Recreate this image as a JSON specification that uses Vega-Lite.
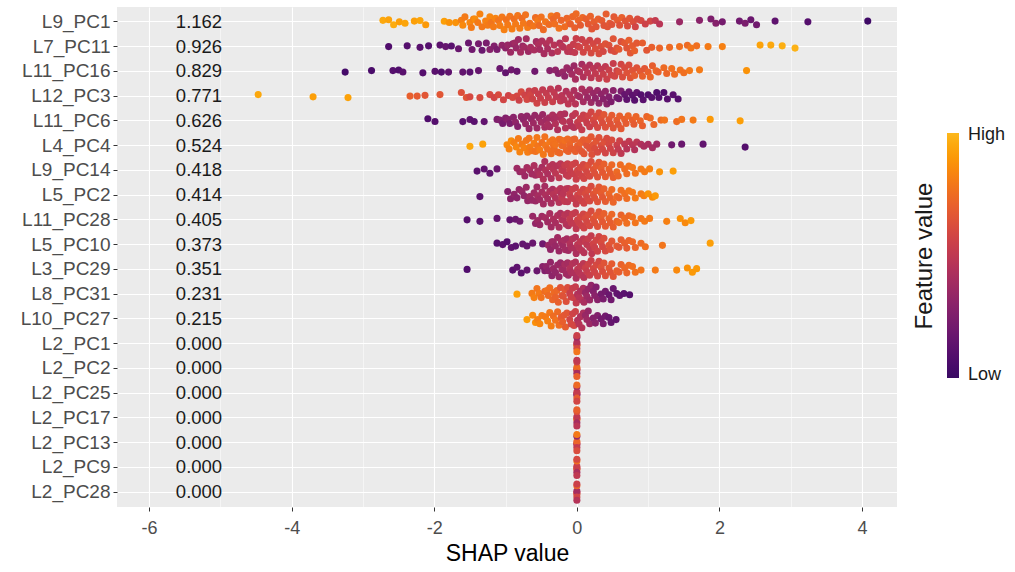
{
"$schema":"https://vega.github.io/schema/vega-lite/v6.json",
"width":780,"height":500,
"autosize":{"type":"none"},
"padding":{"left":117,"top":7,"right":118,"bottom":65},
"config":{"view":{"fill":"#EBEBEB","stroke":null},"font":"Liberation Sans"},
"datasets":{
"means":[{"f":"L9_PC1","m":"1.162"},{"f":"L7_PC11","m":"0.926"},{"f":"L11_PC16","m":"0.829"},{"f":"L12_PC3","m":"0.771"},{"f":"L11_PC6","m":"0.626"},{"f":"L4_PC4","m":"0.524"},{"f":"L9_PC14","m":"0.418"},{"f":"L5_PC2","m":"0.414"},{"f":"L11_PC28","m":"0.405"},{"f":"L5_PC10","m":"0.373"},{"f":"L3_PC29","m":"0.351"},{"f":"L8_PC31","m":"0.231"},{"f":"L10_PC27","m":"0.215"},{"f":"L2_PC1","m":"0.000"},{"f":"L2_PC2","m":"0.000"},{"f":"L2_PC25","m":"0.000"},{"f":"L2_PC17","m":"0.000"},{"f":"L2_PC13","m":"0.000"},{"f":"L2_PC9","m":"0.000"},{"f":"L2_PC28","m":"0.000"}],
"pts":[
{"f":"L9_PC1","s":-2.72,"v":0.95},{"f":"L9_PC1","s":-2.64,"v":0.93},{"f":"L9_PC1","s":-2.57,"v":0.96},{"f":"L9_PC1","s":-2.49,"v":0.92},{"f":"L9_PC1","s":-2.41,"v":0.94},{"f":"L9_PC1","s":-2.28,"v":0.92},{"f":"L9_PC1","s":-2.2,"v":0.94},{"f":"L9_PC1","s":-2.12,"v":0.9},{"f":"L9_PC1","s":-1.86,"v":0.92},{"f":"L9_PC1","s":-1.79,"v":0.88},{"f":"L9_PC1","s":-1.7,"v":0.88},
{"f":"L9_PC1","s":-1.62,"v":0.82},{"f":"L9_PC1","s":-1.6,"v":0.85},{"f":"L9_PC1","s":-1.57,"v":0.8},
{"f":"L9_PC1","s":-1.5,"v":0.84},{"f":"L9_PC1","s":-1.48,"v":0.8},{"f":"L9_PC1","s":-1.45,"v":0.82},{"f":"L9_PC1","s":-1.43,"v":0.86},
{"f":"L9_PC1","s":-1.39,"v":0.8},{"f":"L9_PC1","s":-1.36,"v":0.83},{"f":"L9_PC1","s":-1.33,"v":0.79},
{"f":"L9_PC1","s":-1.28,"v":0.82},{"f":"L9_PC1","s":-1.25,"v":0.8},{"f":"L9_PC1","s":-1.22,"v":0.84},{"f":"L9_PC1","s":-1.2,"v":0.78},
{"f":"L9_PC1","s":-1.17,"v":0.8},{"f":"L9_PC1","s":-1.14,"v":0.83},{"f":"L9_PC1","s":-1.1,"v":0.78},{"f":"L9_PC1","s":-1.08,"v":0.81},
{"f":"L9_PC1","s":-1.05,"v":0.79},{"f":"L9_PC1","s":-1.02,"v":0.82},{"f":"L9_PC1","s":-0.99,"v":0.77},{"f":"L9_PC1","s":-0.97,"v":0.8},
{"f":"L9_PC1","s":-0.94,"v":0.78},{"f":"L9_PC1","s":-0.91,"v":0.81},{"f":"L9_PC1","s":-0.88,"v":0.76},{"f":"L9_PC1","s":-0.86,"v":0.8},
{"f":"L9_PC1","s":-0.83,"v":0.78},{"f":"L9_PC1","s":-0.8,"v":0.8},{"f":"L9_PC1","s":-0.77,"v":0.75},{"f":"L9_PC1","s":-0.75,"v":0.79},
{"f":"L9_PC1","s":-0.72,"v":0.77},{"f":"L9_PC1","s":-0.69,"v":0.8},{"f":"L9_PC1","s":-0.66,"v":0.76},
{"f":"L9_PC1","s":-0.61,"v":0.78},{"f":"L9_PC1","s":-0.58,"v":0.75},{"f":"L9_PC1","s":-0.55,"v":0.79},{"f":"L9_PC1","s":-0.53,"v":0.74},
{"f":"L9_PC1","s":-0.5,"v":0.77},{"f":"L9_PC1","s":-0.47,"v":0.74},{"f":"L9_PC1","s":-0.44,"v":0.78},
{"f":"L9_PC1","s":-0.39,"v":0.75},{"f":"L9_PC1","s":-0.36,"v":0.78},{"f":"L9_PC1","s":-0.33,"v":0.73},{"f":"L9_PC1","s":-0.31,"v":0.76},
{"f":"L9_PC1","s":-0.28,"v":0.74},{"f":"L9_PC1","s":-0.25,"v":0.77},{"f":"L9_PC1","s":-0.22,"v":0.72},
{"f":"L9_PC1","s":-0.17,"v":0.75},{"f":"L9_PC1","s":-0.14,"v":0.72},{"f":"L9_PC1","s":-0.11,"v":0.76},{"f":"L9_PC1","s":-0.09,"v":0.7},
{"f":"L9_PC1","s":-0.06,"v":0.73},{"f":"L9_PC1","s":-0.03,"v":0.7},{"f":"L9_PC1","s":-0.01,"v":0.74},
{"f":"L9_PC1","s":0.02,"v":0.72},{"f":"L9_PC1","s":0.05,"v":0.68},{"f":"L9_PC1","s":0.08,"v":0.73},
{"f":"L9_PC1","s":0.13,"v":0.7},{"f":"L9_PC1","s":0.16,"v":0.67},{"f":"L9_PC1","s":0.19,"v":0.71},{"f":"L9_PC1","s":0.21,"v":0.66},
{"f":"L9_PC1","s":0.24,"v":0.69},{"f":"L9_PC1","s":0.27,"v":0.66},{"f":"L9_PC1","s":0.3,"v":0.7},
{"f":"L9_PC1","s":0.35,"v":0.68},{"f":"L9_PC1","s":0.38,"v":0.65},{"f":"L9_PC1","s":0.41,"v":0.69},{"f":"L9_PC1","s":0.43,"v":0.65},
{"f":"L9_PC1","s":0.46,"v":0.67},{"f":"L9_PC1","s":0.49,"v":0.64},{"f":"L9_PC1","s":0.52,"v":0.67},
{"f":"L9_PC1","s":0.57,"v":0.68},{"f":"L9_PC1","s":0.6,"v":0.64},{"f":"L9_PC1","s":0.63,"v":0.7},
{"f":"L9_PC1","s":0.68,"v":0.65},{"f":"L9_PC1","s":0.71,"v":0.62},{"f":"L9_PC1","s":0.74,"v":0.66},
{"f":"L9_PC1","s":0.79,"v":0.63},{"f":"L9_PC1","s":0.82,"v":0.58},{"f":"L9_PC1","s":0.85,"v":0.61},
{"f":"L9_PC1","s":0.9,"v":0.6},{"f":"L9_PC1","s":0.96,"v":0.56},{"f":"L9_PC1","s":1.03,"v":0.58},{"f":"L9_PC1","s":1.1,"v":0.52},{"f":"L9_PC1","s":1.16,"v":0.48},
{"f":"L9_PC1","s":1.44,"v":0.36},{"f":"L9_PC1","s":1.72,"v":0.3},{"f":"L9_PC1","s":1.88,"v":0.25},{"f":"L9_PC1","s":1.95,"v":0.28},{"f":"L9_PC1","s":2.04,"v":0.22},{"f":"L9_PC1","s":2.28,"v":0.2},{"f":"L9_PC1","s":2.36,"v":0.24},{"f":"L9_PC1","s":2.44,"v":0.18},{"f":"L9_PC1","s":2.52,"v":0.2},{"f":"L9_PC1","s":2.78,"v":0.14},{"f":"L9_PC1","s":3.24,"v":0.1},{"f":"L9_PC1","s":4.08,"v":0.02},

{"f":"L7_PC11","s":-2.64,"v":0.08},{"f":"L7_PC11","s":-2.38,"v":0.1},{"f":"L7_PC11","s":-2.2,"v":0.12},{"f":"L7_PC11","s":-2.08,"v":0.1},{"f":"L7_PC11","s":-1.92,"v":0.13},{"f":"L7_PC11","s":-1.84,"v":0.16},{"f":"L7_PC11","s":-1.76,"v":0.12},{"f":"L7_PC11","s":-1.66,"v":0.17},
{"f":"L7_PC11","s":-1.52,"v":0.18},{"f":"L7_PC11","s":-1.47,"v":0.2},{"f":"L7_PC11","s":-1.38,"v":0.22},{"f":"L7_PC11","s":-1.33,"v":0.18},{"f":"L7_PC11","s":-1.27,"v":0.24},{"f":"L7_PC11","s":-1.22,"v":0.28},{"f":"L7_PC11","s":-1.16,"v":0.27},{"f":"L7_PC11","s":-1.12,"v":0.24},{"f":"L7_PC11","s":-1.05,"v":0.33},{"f":"L7_PC11","s":-1.0,"v":0.31},{"f":"L7_PC11","s":-0.97,"v":0.35},
{"f":"L7_PC11","s":-0.93,"v":0.37},{"f":"L7_PC11","s":-0.9,"v":0.34},{"f":"L7_PC11","s":-0.87,"v":0.38},{"f":"L7_PC11","s":-0.85,"v":0.35},
{"f":"L7_PC11","s":-0.82,"v":0.37},{"f":"L7_PC11","s":-0.79,"v":0.4},{"f":"L7_PC11","s":-0.76,"v":0.36},{"f":"L7_PC11","s":-0.74,"v":0.39},
{"f":"L7_PC11","s":-0.71,"v":0.4},{"f":"L7_PC11","s":-0.68,"v":0.37},{"f":"L7_PC11","s":-0.65,"v":0.41},
{"f":"L7_PC11","s":-0.6,"v":0.42},{"f":"L7_PC11","s":-0.57,"v":0.39},{"f":"L7_PC11","s":-0.54,"v":0.43},{"f":"L7_PC11","s":-0.52,"v":0.4},
{"f":"L7_PC11","s":-0.49,"v":0.44},{"f":"L7_PC11","s":-0.46,"v":0.41},{"f":"L7_PC11","s":-0.43,"v":0.45},{"f":"L7_PC11","s":-0.41,"v":0.42},
{"f":"L7_PC11","s":-0.38,"v":0.46},{"f":"L7_PC11","s":-0.35,"v":0.43},{"f":"L7_PC11","s":-0.32,"v":0.47},
{"f":"L7_PC11","s":-0.27,"v":0.48},{"f":"L7_PC11","s":-0.24,"v":0.45},{"f":"L7_PC11","s":-0.21,"v":0.49},{"f":"L7_PC11","s":-0.19,"v":0.47},
{"f":"L7_PC11","s":-0.16,"v":0.5},{"f":"L7_PC11","s":-0.13,"v":0.48},{"f":"L7_PC11","s":-0.1,"v":0.52},{"f":"L7_PC11","s":-0.08,"v":0.49},
{"f":"L7_PC11","s":-0.05,"v":0.53},{"f":"L7_PC11","s":-0.03,"v":0.51},{"f":"L7_PC11","s":-0.01,"v":0.54},
{"f":"L7_PC11","s":0.01,"v":0.55},{"f":"L7_PC11","s":0.04,"v":0.57},{"f":"L7_PC11","s":0.07,"v":0.54},{"f":"L7_PC11","s":0.09,"v":0.58},
{"f":"L7_PC11","s":0.12,"v":0.57},{"f":"L7_PC11","s":0.15,"v":0.59},{"f":"L7_PC11","s":0.18,"v":0.56},{"f":"L7_PC11","s":0.2,"v":0.6},
{"f":"L7_PC11","s":0.23,"v":0.59},{"f":"L7_PC11","s":0.26,"v":0.62},{"f":"L7_PC11","s":0.29,"v":0.58},{"f":"L7_PC11","s":0.31,"v":0.61},
{"f":"L7_PC11","s":0.34,"v":0.62},{"f":"L7_PC11","s":0.37,"v":0.59},{"f":"L7_PC11","s":0.4,"v":0.64},
{"f":"L7_PC11","s":0.45,"v":0.63},{"f":"L7_PC11","s":0.48,"v":0.6},{"f":"L7_PC11","s":0.51,"v":0.65},{"f":"L7_PC11","s":0.53,"v":0.62},
{"f":"L7_PC11","s":0.56,"v":0.64},{"f":"L7_PC11","s":0.59,"v":0.67},{"f":"L7_PC11","s":0.62,"v":0.63},
{"f":"L7_PC11","s":0.67,"v":0.67},{"f":"L7_PC11","s":0.7,"v":0.65},{"f":"L7_PC11","s":0.73,"v":0.69},{"f":"L7_PC11","s":0.75,"v":0.66},
{"f":"L7_PC11","s":0.78,"v":0.68},{"f":"L7_PC11","s":0.81,"v":0.7},{"f":"L7_PC11","s":0.84,"v":0.67},
{"f":"L7_PC11","s":0.92,"v":0.69},{"f":"L7_PC11","s":0.98,"v":0.66},{"f":"L7_PC11","s":1.05,"v":0.7},{"f":"L7_PC11","s":1.16,"v":0.72},{"f":"L7_PC11","s":1.3,"v":0.74},{"f":"L7_PC11","s":1.44,"v":0.76},{"f":"L7_PC11","s":1.55,"v":0.74},{"f":"L7_PC11","s":1.6,"v":0.78},{"f":"L7_PC11","s":1.68,"v":0.76},{"f":"L7_PC11","s":1.84,"v":0.8},{"f":"L7_PC11","s":2.04,"v":0.82},{"f":"L7_PC11","s":2.57,"v":0.93},{"f":"L7_PC11","s":2.72,"v":0.95},{"f":"L7_PC11","s":2.88,"v":0.97},{"f":"L7_PC11","s":3.06,"v":0.98},

{"f":"L11_PC16","s":-3.25,"v":0.04},{"f":"L11_PC16","s":-2.88,"v":0.06},{"f":"L11_PC16","s":-2.58,"v":0.1},{"f":"L11_PC16","s":-2.5,"v":0.08},{"f":"L11_PC16","s":-2.44,"v":0.12},{"f":"L11_PC16","s":-2.16,"v":0.1},{"f":"L11_PC16","s":-1.99,"v":0.12},{"f":"L11_PC16","s":-1.9,"v":0.09},{"f":"L11_PC16","s":-1.8,"v":0.14},{"f":"L11_PC16","s":-1.6,"v":0.15},{"f":"L11_PC16","s":-1.5,"v":0.12},{"f":"L11_PC16","s":-1.38,"v":0.16},{"f":"L11_PC16","s":-1.08,"v":0.18},{"f":"L11_PC16","s":-1.0,"v":0.15},{"f":"L11_PC16","s":-0.92,"v":0.2},{"f":"L11_PC16","s":-0.84,"v":0.17},{"f":"L11_PC16","s":-0.59,"v":0.2},
{"f":"L11_PC16","s":-0.38,"v":0.29},{"f":"L11_PC16","s":-0.3,"v":0.32},{"f":"L11_PC16","s":-0.26,"v":0.29},{"f":"L11_PC16","s":-0.2,"v":0.35},{"f":"L11_PC16","s":-0.17,"v":0.32},{"f":"L11_PC16","s":-0.14,"v":0.36},
{"f":"L11_PC16","s":-0.1,"v":0.35},{"f":"L11_PC16","s":-0.07,"v":0.39},{"f":"L11_PC16","s":-0.04,"v":0.36},{"f":"L11_PC16","s":-0.02,"v":0.41},
{"f":"L11_PC16","s":0.01,"v":0.41},{"f":"L11_PC16","s":0.04,"v":0.44},{"f":"L11_PC16","s":0.07,"v":0.4},{"f":"L11_PC16","s":0.09,"v":0.45},
{"f":"L11_PC16","s":0.12,"v":0.45},{"f":"L11_PC16","s":0.15,"v":0.48},{"f":"L11_PC16","s":0.18,"v":0.44},{"f":"L11_PC16","s":0.2,"v":0.49},
{"f":"L11_PC16","s":0.23,"v":0.48},{"f":"L11_PC16","s":0.26,"v":0.51},{"f":"L11_PC16","s":0.29,"v":0.47},{"f":"L11_PC16","s":0.31,"v":0.52},
{"f":"L11_PC16","s":0.34,"v":0.51},{"f":"L11_PC16","s":0.37,"v":0.54},{"f":"L11_PC16","s":0.4,"v":0.5},{"f":"L11_PC16","s":0.42,"v":0.55},
{"f":"L11_PC16","s":0.45,"v":0.54},{"f":"L11_PC16","s":0.48,"v":0.57},{"f":"L11_PC16","s":0.51,"v":0.53},{"f":"L11_PC16","s":0.53,"v":0.58},
{"f":"L11_PC16","s":0.56,"v":0.57},{"f":"L11_PC16","s":0.59,"v":0.61},{"f":"L11_PC16","s":0.62,"v":0.58},{"f":"L11_PC16","s":0.64,"v":0.62},
{"f":"L11_PC16","s":0.67,"v":0.6},{"f":"L11_PC16","s":0.7,"v":0.64},{"f":"L11_PC16","s":0.73,"v":0.61},{"f":"L11_PC16","s":0.75,"v":0.65},
{"f":"L11_PC16","s":0.78,"v":0.65},{"f":"L11_PC16","s":0.81,"v":0.68},{"f":"L11_PC16","s":0.84,"v":0.64},
{"f":"L11_PC16","s":0.89,"v":0.67},{"f":"L11_PC16","s":0.92,"v":0.7},{"f":"L11_PC16","s":0.95,"v":0.66},
{"f":"L11_PC16","s":1.0,"v":0.7},{"f":"L11_PC16","s":1.03,"v":0.72},{"f":"L11_PC16","s":1.06,"v":0.69},
{"f":"L11_PC16","s":1.11,"v":0.73},{"f":"L11_PC16","s":1.14,"v":0.71},
{"f":"L11_PC16","s":1.22,"v":0.74},{"f":"L11_PC16","s":1.26,"v":0.72},
{"f":"L11_PC16","s":1.33,"v":0.76},{"f":"L11_PC16","s":1.37,"v":0.75},
{"f":"L11_PC16","s":1.45,"v":0.77},{"f":"L11_PC16","s":1.5,"v":0.76},
{"f":"L11_PC16","s":1.58,"v":0.79},{"f":"L11_PC16","s":1.72,"v":0.8},{"f":"L11_PC16","s":2.38,"v":0.88},

{"f":"L12_PC3","s":-4.47,"v":0.95},{"f":"L12_PC3","s":-3.7,"v":0.92},{"f":"L12_PC3","s":-3.21,"v":0.93},
{"f":"L12_PC3","s":-2.34,"v":0.7},{"f":"L12_PC3","s":-2.24,"v":0.68},{"f":"L12_PC3","s":-2.13,"v":0.66},{"f":"L12_PC3","s":-1.92,"v":0.66},{"f":"L12_PC3","s":-1.62,"v":0.63},{"f":"L12_PC3","s":-1.55,"v":0.65},{"f":"L12_PC3","s":-1.5,"v":0.6},{"f":"L12_PC3","s":-1.36,"v":0.61},{"f":"L12_PC3","s":-1.22,"v":0.6},{"f":"L12_PC3","s":-1.16,"v":0.58},{"f":"L12_PC3","s":-1.1,"v":0.61},{"f":"L12_PC3","s":-1.03,"v":0.58},{"f":"L12_PC3","s":-0.96,"v":0.57},{"f":"L12_PC3","s":-0.9,"v":0.6},
{"f":"L12_PC3","s":-0.84,"v":0.59},{"f":"L12_PC3","s":-0.81,"v":0.56},{"f":"L12_PC3","s":-0.78,"v":0.6},
{"f":"L12_PC3","s":-0.73,"v":0.57},{"f":"L12_PC3","s":-0.7,"v":0.59},{"f":"L12_PC3","s":-0.67,"v":0.55},{"f":"L12_PC3","s":-0.65,"v":0.58},
{"f":"L12_PC3","s":-0.62,"v":0.56},{"f":"L12_PC3","s":-0.59,"v":0.54},{"f":"L12_PC3","s":-0.56,"v":0.57},{"f":"L12_PC3","s":-0.54,"v":0.53},
{"f":"L12_PC3","s":-0.51,"v":0.54},{"f":"L12_PC3","s":-0.48,"v":0.51},{"f":"L12_PC3","s":-0.45,"v":0.55},{"f":"L12_PC3","s":-0.43,"v":0.52},
{"f":"L12_PC3","s":-0.4,"v":0.53},{"f":"L12_PC3","s":-0.37,"v":0.5},{"f":"L12_PC3","s":-0.34,"v":0.54},{"f":"L12_PC3","s":-0.32,"v":0.51},
{"f":"L12_PC3","s":-0.29,"v":0.5},{"f":"L12_PC3","s":-0.26,"v":0.47},{"f":"L12_PC3","s":-0.23,"v":0.51},{"f":"L12_PC3","s":-0.21,"v":0.48},
{"f":"L12_PC3","s":-0.18,"v":0.48},{"f":"L12_PC3","s":-0.15,"v":0.45},{"f":"L12_PC3","s":-0.12,"v":0.49},{"f":"L12_PC3","s":-0.1,"v":0.46},
{"f":"L12_PC3","s":-0.07,"v":0.46},{"f":"L12_PC3","s":-0.04,"v":0.43},{"f":"L12_PC3","s":-0.02,"v":0.47},
{"f":"L12_PC3","s":0.01,"v":0.42},{"f":"L12_PC3","s":0.04,"v":0.39},{"f":"L12_PC3","s":0.07,"v":0.43},{"f":"L12_PC3","s":0.09,"v":0.4},
{"f":"L12_PC3","s":0.12,"v":0.39},{"f":"L12_PC3","s":0.15,"v":0.36},{"f":"L12_PC3","s":0.18,"v":0.4},{"f":"L12_PC3","s":0.2,"v":0.37},
{"f":"L12_PC3","s":0.23,"v":0.35},{"f":"L12_PC3","s":0.26,"v":0.32},{"f":"L12_PC3","s":0.29,"v":0.36},{"f":"L12_PC3","s":0.31,"v":0.33},
{"f":"L12_PC3","s":0.34,"v":0.32},{"f":"L12_PC3","s":0.37,"v":0.29},{"f":"L12_PC3","s":0.4,"v":0.33},{"f":"L12_PC3","s":0.42,"v":0.3},
{"f":"L12_PC3","s":0.45,"v":0.28},{"f":"L12_PC3","s":0.48,"v":0.25},{"f":"L12_PC3","s":0.51,"v":0.29},
{"f":"L12_PC3","s":0.56,"v":0.22},{"f":"L12_PC3","s":0.59,"v":0.2},{"f":"L12_PC3","s":0.62,"v":0.24},
{"f":"L12_PC3","s":0.67,"v":0.16},{"f":"L12_PC3","s":0.7,"v":0.14},{"f":"L12_PC3","s":0.73,"v":0.18},
{"f":"L12_PC3","s":0.78,"v":0.13},{"f":"L12_PC3","s":0.81,"v":0.11},{"f":"L12_PC3","s":0.84,"v":0.15},
{"f":"L12_PC3","s":0.9,"v":0.1},{"f":"L12_PC3","s":0.93,"v":0.12},
{"f":"L12_PC3","s":1.0,"v":0.09},{"f":"L12_PC3","s":1.05,"v":0.11},
{"f":"L12_PC3","s":1.12,"v":0.08},{"f":"L12_PC3","s":1.15,"v":0.1},
{"f":"L12_PC3","s":1.22,"v":0.09},{"f":"L12_PC3","s":1.27,"v":0.11},
{"f":"L12_PC3","s":1.35,"v":0.12},{"f":"L12_PC3","s":1.42,"v":0.1},

{"f":"L11_PC6","s":-2.09,"v":0.08},{"f":"L11_PC6","s":-1.99,"v":0.1},{"f":"L11_PC6","s":-1.6,"v":0.12},{"f":"L11_PC6","s":-1.5,"v":0.14},{"f":"L11_PC6","s":-1.44,"v":0.12},{"f":"L11_PC6","s":-1.3,"v":0.15},
{"f":"L11_PC6","s":-1.12,"v":0.25},{"f":"L11_PC6","s":-1.08,"v":0.27},{"f":"L11_PC6","s":-1.04,"v":0.23},
{"f":"L11_PC6","s":-1.0,"v":0.27},{"f":"L11_PC6","s":-0.97,"v":0.29},{"f":"L11_PC6","s":-0.94,"v":0.25},
{"f":"L11_PC6","s":-0.89,"v":0.3},{"f":"L11_PC6","s":-0.86,"v":0.32},{"f":"L11_PC6","s":-0.83,"v":0.28},
{"f":"L11_PC6","s":-0.78,"v":0.33},{"f":"L11_PC6","s":-0.75,"v":0.31},{"f":"L11_PC6","s":-0.72,"v":0.35},{"f":"L11_PC6","s":-0.7,"v":0.32},
{"f":"L11_PC6","s":-0.67,"v":0.35},{"f":"L11_PC6","s":-0.64,"v":0.33},{"f":"L11_PC6","s":-0.61,"v":0.37},{"f":"L11_PC6","s":-0.59,"v":0.34},
{"f":"L11_PC6","s":-0.56,"v":0.37},{"f":"L11_PC6","s":-0.53,"v":0.35},{"f":"L11_PC6","s":-0.5,"v":0.39},{"f":"L11_PC6","s":-0.48,"v":0.36},
{"f":"L11_PC6","s":-0.45,"v":0.4},{"f":"L11_PC6","s":-0.43,"v":0.38},{"f":"L11_PC6","s":-0.41,"v":0.42},{"f":"L11_PC6","s":-0.39,"v":0.39},{"f":"L11_PC6","s":-0.38,"v":0.41},
{"f":"L11_PC6","s":-0.34,"v":0.43},{"f":"L11_PC6","s":-0.32,"v":0.41},{"f":"L11_PC6","s":-0.3,"v":0.45},{"f":"L11_PC6","s":-0.28,"v":0.42},{"f":"L11_PC6","s":-0.27,"v":0.44},
{"f":"L11_PC6","s":-0.23,"v":0.45},{"f":"L11_PC6","s":-0.21,"v":0.43},{"f":"L11_PC6","s":-0.19,"v":0.47},{"f":"L11_PC6","s":-0.17,"v":0.44},{"f":"L11_PC6","s":-0.16,"v":0.46},
{"f":"L11_PC6","s":-0.1,"v":0.47},{"f":"L11_PC6","s":-0.08,"v":0.45},{"f":"L11_PC6","s":-0.06,"v":0.49},{"f":"L11_PC6","s":-0.04,"v":0.46},{"f":"L11_PC6","s":-0.02,"v":0.5},
{"f":"L11_PC6","s":0.01,"v":0.53},{"f":"L11_PC6","s":0.03,"v":0.51},{"f":"L11_PC6","s":0.05,"v":0.55},{"f":"L11_PC6","s":0.07,"v":0.52},{"f":"L11_PC6","s":0.09,"v":0.54},
{"f":"L11_PC6","s":0.12,"v":0.55},{"f":"L11_PC6","s":0.14,"v":0.53},{"f":"L11_PC6","s":0.16,"v":0.57},{"f":"L11_PC6","s":0.18,"v":0.54},{"f":"L11_PC6","s":0.2,"v":0.58},
{"f":"L11_PC6","s":0.23,"v":0.6},{"f":"L11_PC6","s":0.25,"v":0.57},{"f":"L11_PC6","s":0.27,"v":0.62},{"f":"L11_PC6","s":0.29,"v":0.59},{"f":"L11_PC6","s":0.31,"v":0.61},
{"f":"L11_PC6","s":0.34,"v":0.64},{"f":"L11_PC6","s":0.36,"v":0.62},{"f":"L11_PC6","s":0.38,"v":0.66},{"f":"L11_PC6","s":0.4,"v":0.63},
{"f":"L11_PC6","s":0.45,"v":0.66},{"f":"L11_PC6","s":0.47,"v":0.64},{"f":"L11_PC6","s":0.49,"v":0.68},{"f":"L11_PC6","s":0.51,"v":0.65},
{"f":"L11_PC6","s":0.56,"v":0.68},{"f":"L11_PC6","s":0.58,"v":0.66},{"f":"L11_PC6","s":0.6,"v":0.7},{"f":"L11_PC6","s":0.62,"v":0.67},
{"f":"L11_PC6","s":0.67,"v":0.7},{"f":"L11_PC6","s":0.69,"v":0.68},{"f":"L11_PC6","s":0.72,"v":0.72},
{"f":"L11_PC6","s":0.78,"v":0.7},{"f":"L11_PC6","s":0.8,"v":0.68},{"f":"L11_PC6","s":0.83,"v":0.72},
{"f":"L11_PC6","s":0.89,"v":0.72},{"f":"L11_PC6","s":0.92,"v":0.7},
{"f":"L11_PC6","s":0.98,"v":0.72},{"f":"L11_PC6","s":1.03,"v":0.74},{"f":"L11_PC6","s":1.08,"v":0.72},{"f":"L11_PC6","s":1.18,"v":0.75},{"f":"L11_PC6","s":1.23,"v":0.78},{"f":"L11_PC6","s":1.4,"v":0.75},{"f":"L11_PC6","s":1.47,"v":0.78},{"f":"L11_PC6","s":1.63,"v":0.8},{"f":"L11_PC6","s":1.87,"v":0.9},{"f":"L11_PC6","s":2.29,"v":0.92},

{"f":"L4_PC4","s":-1.5,"v":0.95},{"f":"L4_PC4","s":-1.32,"v":0.93},
{"f":"L4_PC4","s":-0.98,"v":0.85},{"f":"L4_PC4","s":-0.95,"v":0.83},{"f":"L4_PC4","s":-0.92,"v":0.86},
{"f":"L4_PC4","s":-0.88,"v":0.82},{"f":"L4_PC4","s":-0.85,"v":0.84},{"f":"L4_PC4","s":-0.82,"v":0.8},{"f":"L4_PC4","s":-0.8,"v":0.83},
{"f":"L4_PC4","s":-0.77,"v":0.8},{"f":"L4_PC4","s":-0.74,"v":0.82},{"f":"L4_PC4","s":-0.71,"v":0.79},{"f":"L4_PC4","s":-0.69,"v":0.81},{"f":"L4_PC4","s":-0.67,"v":0.78},
{"f":"L4_PC4","s":-0.66,"v":0.8},{"f":"L4_PC4","s":-0.63,"v":0.78},{"f":"L4_PC4","s":-0.6,"v":0.81},{"f":"L4_PC4","s":-0.58,"v":0.77},{"f":"L4_PC4","s":-0.56,"v":0.79},
{"f":"L4_PC4","s":-0.55,"v":0.78},{"f":"L4_PC4","s":-0.52,"v":0.8},{"f":"L4_PC4","s":-0.49,"v":0.76},{"f":"L4_PC4","s":-0.47,"v":0.79},{"f":"L4_PC4","s":-0.45,"v":0.77},
{"f":"L4_PC4","s":-0.44,"v":0.78},{"f":"L4_PC4","s":-0.41,"v":0.76},{"f":"L4_PC4","s":-0.38,"v":0.79},{"f":"L4_PC4","s":-0.36,"v":0.75},{"f":"L4_PC4","s":-0.34,"v":0.77},{"f":"L4_PC4","s":-0.33,"v":0.76},
{"f":"L4_PC4","s":-0.32,"v":0.75},{"f":"L4_PC4","s":-0.3,"v":0.77},{"f":"L4_PC4","s":-0.27,"v":0.74},{"f":"L4_PC4","s":-0.25,"v":0.76},{"f":"L4_PC4","s":-0.24,"v":0.73},{"f":"L4_PC4","s":-0.23,"v":0.75},
{"f":"L4_PC4","s":-0.21,"v":0.75},{"f":"L4_PC4","s":-0.19,"v":0.73},{"f":"L4_PC4","s":-0.17,"v":0.76},{"f":"L4_PC4","s":-0.15,"v":0.72},{"f":"L4_PC4","s":-0.13,"v":0.74},{"f":"L4_PC4","s":-0.12,"v":0.71},
{"f":"L4_PC4","s":-0.1,"v":0.72},{"f":"L4_PC4","s":-0.08,"v":0.7},{"f":"L4_PC4","s":-0.06,"v":0.73},{"f":"L4_PC4","s":-0.04,"v":0.69},{"f":"L4_PC4","s":-0.03,"v":0.71},{"f":"L4_PC4","s":-0.02,"v":0.7},
{"f":"L4_PC4","s":0.01,"v":0.7},{"f":"L4_PC4","s":0.03,"v":0.68},{"f":"L4_PC4","s":0.05,"v":0.71},{"f":"L4_PC4","s":0.07,"v":0.67},{"f":"L4_PC4","s":0.09,"v":0.69},{"f":"L4_PC4","s":0.1,"v":0.66},
{"f":"L4_PC4","s":0.12,"v":0.68},{"f":"L4_PC4","s":0.14,"v":0.65},{"f":"L4_PC4","s":0.16,"v":0.69},{"f":"L4_PC4","s":0.18,"v":0.64},{"f":"L4_PC4","s":0.2,"v":0.67},{"f":"L4_PC4","s":0.21,"v":0.63},
{"f":"L4_PC4","s":0.23,"v":0.65},{"f":"L4_PC4","s":0.25,"v":0.62},{"f":"L4_PC4","s":0.27,"v":0.66},{"f":"L4_PC4","s":0.29,"v":0.61},{"f":"L4_PC4","s":0.31,"v":0.64},
{"f":"L4_PC4","s":0.34,"v":0.62},{"f":"L4_PC4","s":0.36,"v":0.59},{"f":"L4_PC4","s":0.38,"v":0.63},{"f":"L4_PC4","s":0.4,"v":0.58},{"f":"L4_PC4","s":0.42,"v":0.61},
{"f":"L4_PC4","s":0.45,"v":0.6},{"f":"L4_PC4","s":0.47,"v":0.57},{"f":"L4_PC4","s":0.49,"v":0.61},{"f":"L4_PC4","s":0.51,"v":0.56},
{"f":"L4_PC4","s":0.56,"v":0.55},{"f":"L4_PC4","s":0.58,"v":0.52},{"f":"L4_PC4","s":0.6,"v":0.56},{"f":"L4_PC4","s":0.62,"v":0.5},
{"f":"L4_PC4","s":0.67,"v":0.5},{"f":"L4_PC4","s":0.7,"v":0.47},{"f":"L4_PC4","s":0.73,"v":0.51},
{"f":"L4_PC4","s":0.78,"v":0.48},{"f":"L4_PC4","s":0.81,"v":0.45},{"f":"L4_PC4","s":0.84,"v":0.49},
{"f":"L4_PC4","s":0.9,"v":0.45},{"f":"L4_PC4","s":0.94,"v":0.42},
{"f":"L4_PC4","s":1.0,"v":0.42},{"f":"L4_PC4","s":1.06,"v":0.4},{"f":"L4_PC4","s":1.12,"v":0.38},
{"f":"L4_PC4","s":1.33,"v":0.2},{"f":"L4_PC4","s":1.47,"v":0.18},{"f":"L4_PC4","s":1.77,"v":0.15},{"f":"L4_PC4","s":2.36,"v":0.1},

{"f":"L9_PC14","s":-1.4,"v":0.12},{"f":"L9_PC14","s":-1.3,"v":0.15},{"f":"L9_PC14","s":-1.22,"v":0.14},{"f":"L9_PC14","s":-1.12,"v":0.18},
{"f":"L9_PC14","s":-0.84,"v":0.37},{"f":"L9_PC14","s":-0.8,"v":0.35},
{"f":"L9_PC14","s":-0.76,"v":0.39},{"f":"L9_PC14","s":-0.73,"v":0.37},{"f":"L9_PC14","s":-0.7,"v":0.4},
{"f":"L9_PC14","s":-0.66,"v":0.42},{"f":"L9_PC14","s":-0.63,"v":0.39},{"f":"L9_PC14","s":-0.6,"v":0.43},{"f":"L9_PC14","s":-0.58,"v":0.4},
{"f":"L9_PC14","s":-0.55,"v":0.42},{"f":"L9_PC14","s":-0.52,"v":0.44},{"f":"L9_PC14","s":-0.49,"v":0.41},{"f":"L9_PC14","s":-0.47,"v":0.45},{"f":"L9_PC14","s":-0.45,"v":0.43},
{"f":"L9_PC14","s":-0.44,"v":0.45},{"f":"L9_PC14","s":-0.41,"v":0.43},{"f":"L9_PC14","s":-0.38,"v":0.47},{"f":"L9_PC14","s":-0.36,"v":0.44},{"f":"L9_PC14","s":-0.34,"v":0.46},
{"f":"L9_PC14","s":-0.33,"v":0.47},{"f":"L9_PC14","s":-0.3,"v":0.49},{"f":"L9_PC14","s":-0.27,"v":0.46},{"f":"L9_PC14","s":-0.25,"v":0.5},{"f":"L9_PC14","s":-0.23,"v":0.48},
{"f":"L9_PC14","s":-0.21,"v":0.52},{"f":"L9_PC14","s":-0.19,"v":0.5},{"f":"L9_PC14","s":-0.17,"v":0.53},{"f":"L9_PC14","s":-0.15,"v":0.51},{"f":"L9_PC14","s":-0.13,"v":0.54},{"f":"L9_PC14","s":-0.12,"v":0.52},
{"f":"L9_PC14","s":-0.1,"v":0.55},{"f":"L9_PC14","s":-0.08,"v":0.53},{"f":"L9_PC14","s":-0.06,"v":0.57},{"f":"L9_PC14","s":-0.04,"v":0.54},{"f":"L9_PC14","s":-0.02,"v":0.56},{"f":"L9_PC14","s":-0.01,"v":0.55},
{"f":"L9_PC14","s":0.01,"v":0.58},{"f":"L9_PC14","s":0.03,"v":0.56},{"f":"L9_PC14","s":0.05,"v":0.6},{"f":"L9_PC14","s":0.07,"v":0.57},{"f":"L9_PC14","s":0.09,"v":0.59},{"f":"L9_PC14","s":0.1,"v":0.58},
{"f":"L9_PC14","s":0.12,"v":0.61},{"f":"L9_PC14","s":0.14,"v":0.59},{"f":"L9_PC14","s":0.16,"v":0.63},{"f":"L9_PC14","s":0.18,"v":0.6},{"f":"L9_PC14","s":0.2,"v":0.62},
{"f":"L9_PC14","s":0.23,"v":0.65},{"f":"L9_PC14","s":0.25,"v":0.63},{"f":"L9_PC14","s":0.27,"v":0.67},{"f":"L9_PC14","s":0.29,"v":0.64},{"f":"L9_PC14","s":0.31,"v":0.66},
{"f":"L9_PC14","s":0.34,"v":0.69},{"f":"L9_PC14","s":0.36,"v":0.67},{"f":"L9_PC14","s":0.38,"v":0.7},{"f":"L9_PC14","s":0.4,"v":0.68},
{"f":"L9_PC14","s":0.45,"v":0.71},{"f":"L9_PC14","s":0.47,"v":0.69},{"f":"L9_PC14","s":0.49,"v":0.73},{"f":"L9_PC14","s":0.51,"v":0.7},
{"f":"L9_PC14","s":0.56,"v":0.74},{"f":"L9_PC14","s":0.58,"v":0.72},{"f":"L9_PC14","s":0.61,"v":0.75},
{"f":"L9_PC14","s":0.67,"v":0.76},{"f":"L9_PC14","s":0.7,"v":0.75},{"f":"L9_PC14","s":0.73,"v":0.77},
{"f":"L9_PC14","s":0.78,"v":0.79},{"f":"L9_PC14","s":0.82,"v":0.78},
{"f":"L9_PC14","s":0.9,"v":0.8},{"f":"L9_PC14","s":0.95,"v":0.8},{"f":"L9_PC14","s":1.02,"v":0.82},
{"f":"L9_PC14","s":1.16,"v":0.88},{"f":"L9_PC14","s":1.35,"v":0.92},

{"f":"L5_PC2","s":-1.36,"v":0.12},
{"f":"L5_PC2","s":-0.97,"v":0.27},{"f":"L5_PC2","s":-0.93,"v":0.29},
{"f":"L5_PC2","s":-0.88,"v":0.32},{"f":"L5_PC2","s":-0.84,"v":0.3},{"f":"L5_PC2","s":-0.81,"v":0.33},
{"f":"L5_PC2","s":-0.77,"v":0.35},{"f":"L5_PC2","s":-0.74,"v":0.33},{"f":"L5_PC2","s":-0.71,"v":0.36},{"f":"L5_PC2","s":-0.69,"v":0.34},
{"f":"L5_PC2","s":-0.66,"v":0.37},{"f":"L5_PC2","s":-0.63,"v":0.35},{"f":"L5_PC2","s":-0.6,"v":0.38},{"f":"L5_PC2","s":-0.58,"v":0.36},{"f":"L5_PC2","s":-0.56,"v":0.37},
{"f":"L5_PC2","s":-0.55,"v":0.4},{"f":"L5_PC2","s":-0.52,"v":0.38},{"f":"L5_PC2","s":-0.49,"v":0.41},{"f":"L5_PC2","s":-0.47,"v":0.39},{"f":"L5_PC2","s":-0.45,"v":0.4},
{"f":"L5_PC2","s":-0.44,"v":0.43},{"f":"L5_PC2","s":-0.41,"v":0.41},{"f":"L5_PC2","s":-0.38,"v":0.44},{"f":"L5_PC2","s":-0.36,"v":0.42},{"f":"L5_PC2","s":-0.34,"v":0.43},
{"f":"L5_PC2","s":-0.33,"v":0.47},{"f":"L5_PC2","s":-0.3,"v":0.45},{"f":"L5_PC2","s":-0.27,"v":0.48},{"f":"L5_PC2","s":-0.25,"v":0.46},{"f":"L5_PC2","s":-0.23,"v":0.47},{"f":"L5_PC2","s":-0.22,"v":0.45},
{"f":"L5_PC2","s":-0.21,"v":0.5},{"f":"L5_PC2","s":-0.19,"v":0.48},{"f":"L5_PC2","s":-0.17,"v":0.51},{"f":"L5_PC2","s":-0.15,"v":0.49},{"f":"L5_PC2","s":-0.13,"v":0.5},{"f":"L5_PC2","s":-0.12,"v":0.48},
{"f":"L5_PC2","s":-0.1,"v":0.54},{"f":"L5_PC2","s":-0.08,"v":0.52},{"f":"L5_PC2","s":-0.06,"v":0.55},{"f":"L5_PC2","s":-0.04,"v":0.53},{"f":"L5_PC2","s":-0.02,"v":0.54},{"f":"L5_PC2","s":-0.01,"v":0.52},
{"f":"L5_PC2","s":0.01,"v":0.57},{"f":"L5_PC2","s":0.03,"v":0.55},{"f":"L5_PC2","s":0.05,"v":0.59},{"f":"L5_PC2","s":0.07,"v":0.56},{"f":"L5_PC2","s":0.09,"v":0.58},{"f":"L5_PC2","s":0.1,"v":0.57},
{"f":"L5_PC2","s":0.12,"v":0.61},{"f":"L5_PC2","s":0.14,"v":0.59},{"f":"L5_PC2","s":0.16,"v":0.62},{"f":"L5_PC2","s":0.18,"v":0.6},{"f":"L5_PC2","s":0.2,"v":0.61},
{"f":"L5_PC2","s":0.23,"v":0.65},{"f":"L5_PC2","s":0.25,"v":0.63},{"f":"L5_PC2","s":0.27,"v":0.67},{"f":"L5_PC2","s":0.29,"v":0.64},{"f":"L5_PC2","s":0.31,"v":0.66},
{"f":"L5_PC2","s":0.34,"v":0.69},{"f":"L5_PC2","s":0.36,"v":0.67},{"f":"L5_PC2","s":0.38,"v":0.7},{"f":"L5_PC2","s":0.4,"v":0.68},
{"f":"L5_PC2","s":0.45,"v":0.73},{"f":"L5_PC2","s":0.47,"v":0.71},{"f":"L5_PC2","s":0.49,"v":0.74},{"f":"L5_PC2","s":0.51,"v":0.72},
{"f":"L5_PC2","s":0.56,"v":0.74},{"f":"L5_PC2","s":0.59,"v":0.72},{"f":"L5_PC2","s":0.62,"v":0.76},
{"f":"L5_PC2","s":0.67,"v":0.76},{"f":"L5_PC2","s":0.7,"v":0.75},{"f":"L5_PC2","s":0.73,"v":0.78},
{"f":"L5_PC2","s":0.78,"v":0.79},{"f":"L5_PC2","s":0.82,"v":0.8},
{"f":"L5_PC2","s":0.9,"v":0.8},{"f":"L5_PC2","s":0.94,"v":0.82},
{"f":"L5_PC2","s":1.0,"v":0.88},{"f":"L5_PC2","s":1.06,"v":0.86},{"f":"L5_PC2","s":1.1,"v":0.9},

{"f":"L11_PC28","s":-1.54,"v":0.1},{"f":"L11_PC28","s":-1.36,"v":0.12},{"f":"L11_PC28","s":-1.12,"v":0.15},{"f":"L11_PC28","s":-0.94,"v":0.15},{"f":"L11_PC28","s":-0.86,"v":0.18},{"f":"L11_PC28","s":-0.8,"v":0.2},
{"f":"L11_PC28","s":-0.62,"v":0.35},{"f":"L11_PC28","s":-0.58,"v":0.33},
{"f":"L11_PC28","s":-0.55,"v":0.37},{"f":"L11_PC28","s":-0.52,"v":0.35},{"f":"L11_PC28","s":-0.49,"v":0.38},
{"f":"L11_PC28","s":-0.44,"v":0.4},{"f":"L11_PC28","s":-0.41,"v":0.38},{"f":"L11_PC28","s":-0.38,"v":0.41},{"f":"L11_PC28","s":-0.36,"v":0.39},
{"f":"L11_PC28","s":-0.33,"v":0.43},{"f":"L11_PC28","s":-0.3,"v":0.41},{"f":"L11_PC28","s":-0.27,"v":0.44},{"f":"L11_PC28","s":-0.25,"v":0.42},{"f":"L11_PC28","s":-0.23,"v":0.43},
{"f":"L11_PC28","s":-0.21,"v":0.47},{"f":"L11_PC28","s":-0.19,"v":0.45},{"f":"L11_PC28","s":-0.17,"v":0.48},{"f":"L11_PC28","s":-0.15,"v":0.46},{"f":"L11_PC28","s":-0.13,"v":0.47},{"f":"L11_PC28","s":-0.12,"v":0.45},
{"f":"L11_PC28","s":-0.1,"v":0.52},{"f":"L11_PC28","s":-0.08,"v":0.5},{"f":"L11_PC28","s":-0.06,"v":0.53},{"f":"L11_PC28","s":-0.04,"v":0.51},{"f":"L11_PC28","s":-0.02,"v":0.52},{"f":"L11_PC28","s":-0.01,"v":0.5},
{"f":"L11_PC28","s":0.01,"v":0.57},{"f":"L11_PC28","s":0.03,"v":0.55},{"f":"L11_PC28","s":0.05,"v":0.59},{"f":"L11_PC28","s":0.07,"v":0.56},{"f":"L11_PC28","s":0.09,"v":0.58},{"f":"L11_PC28","s":0.1,"v":0.57},
{"f":"L11_PC28","s":0.12,"v":0.61},{"f":"L11_PC28","s":0.14,"v":0.59},{"f":"L11_PC28","s":0.16,"v":0.62},{"f":"L11_PC28","s":0.18,"v":0.6},{"f":"L11_PC28","s":0.2,"v":0.61},
{"f":"L11_PC28","s":0.23,"v":0.65},{"f":"L11_PC28","s":0.25,"v":0.63},{"f":"L11_PC28","s":0.27,"v":0.67},{"f":"L11_PC28","s":0.29,"v":0.64},{"f":"L11_PC28","s":0.31,"v":0.66},
{"f":"L11_PC28","s":0.34,"v":0.69},{"f":"L11_PC28","s":0.36,"v":0.67},{"f":"L11_PC28","s":0.38,"v":0.7},{"f":"L11_PC28","s":0.4,"v":0.68},
{"f":"L11_PC28","s":0.45,"v":0.71},{"f":"L11_PC28","s":0.47,"v":0.69},{"f":"L11_PC28","s":0.49,"v":0.73},{"f":"L11_PC28","s":0.51,"v":0.7},
{"f":"L11_PC28","s":0.56,"v":0.72},{"f":"L11_PC28","s":0.59,"v":0.74},{"f":"L11_PC28","s":0.62,"v":0.71},
{"f":"L11_PC28","s":0.67,"v":0.74},{"f":"L11_PC28","s":0.7,"v":0.76},{"f":"L11_PC28","s":0.73,"v":0.73},
{"f":"L11_PC28","s":0.78,"v":0.76},{"f":"L11_PC28","s":0.82,"v":0.78},
{"f":"L11_PC28","s":0.9,"v":0.78},{"f":"L11_PC28","s":0.95,"v":0.8},
{"f":"L11_PC28","s":1.02,"v":0.8},
{"f":"L11_PC28","s":1.26,"v":0.82},{"f":"L11_PC28","s":1.45,"v":0.88},{"f":"L11_PC28","s":1.52,"v":0.85},{"f":"L11_PC28","s":1.6,"v":0.9},

{"f":"L5_PC10","s":-1.12,"v":0.1},{"f":"L5_PC10","s":-1.04,"v":0.12},{"f":"L5_PC10","s":-0.98,"v":0.1},{"f":"L5_PC10","s":-0.92,"v":0.14},{"f":"L5_PC10","s":-0.86,"v":0.12},{"f":"L5_PC10","s":-0.76,"v":0.15},{"f":"L5_PC10","s":-0.7,"v":0.15},{"f":"L5_PC10","s":-0.62,"v":0.18},{"f":"L5_PC10","s":-0.48,"v":0.2},
{"f":"L5_PC10","s":-0.4,"v":0.35},{"f":"L5_PC10","s":-0.37,"v":0.33},{"f":"L5_PC10","s":-0.35,"v":0.36},
{"f":"L5_PC10","s":-0.33,"v":0.37},{"f":"L5_PC10","s":-0.3,"v":0.35},{"f":"L5_PC10","s":-0.27,"v":0.38},{"f":"L5_PC10","s":-0.25,"v":0.36},
{"f":"L5_PC10","s":-0.22,"v":0.4},{"f":"L5_PC10","s":-0.2,"v":0.38},{"f":"L5_PC10","s":-0.18,"v":0.41},{"f":"L5_PC10","s":-0.16,"v":0.39},{"f":"L5_PC10","s":-0.14,"v":0.4},{"f":"L5_PC10","s":-0.12,"v":0.38},
{"f":"L5_PC10","s":-0.1,"v":0.45},{"f":"L5_PC10","s":-0.08,"v":0.43},{"f":"L5_PC10","s":-0.06,"v":0.46},{"f":"L5_PC10","s":-0.04,"v":0.44},{"f":"L5_PC10","s":-0.02,"v":0.45},{"f":"L5_PC10","s":-0.01,"v":0.43},
{"f":"L5_PC10","s":0.01,"v":0.49},{"f":"L5_PC10","s":0.03,"v":0.47},{"f":"L5_PC10","s":0.05,"v":0.5},{"f":"L5_PC10","s":0.07,"v":0.48},{"f":"L5_PC10","s":0.09,"v":0.49},{"f":"L5_PC10","s":0.1,"v":0.47},
{"f":"L5_PC10","s":0.12,"v":0.52},{"f":"L5_PC10","s":0.14,"v":0.5},{"f":"L5_PC10","s":0.16,"v":0.53},{"f":"L5_PC10","s":0.18,"v":0.51},{"f":"L5_PC10","s":0.2,"v":0.52},{"f":"L5_PC10","s":0.21,"v":0.5},
{"f":"L5_PC10","s":0.23,"v":0.57},{"f":"L5_PC10","s":0.25,"v":0.55},{"f":"L5_PC10","s":0.27,"v":0.58},{"f":"L5_PC10","s":0.29,"v":0.56},{"f":"L5_PC10","s":0.31,"v":0.57},
{"f":"L5_PC10","s":0.34,"v":0.61},{"f":"L5_PC10","s":0.36,"v":0.59},{"f":"L5_PC10","s":0.38,"v":0.62},{"f":"L5_PC10","s":0.4,"v":0.6},
{"f":"L5_PC10","s":0.45,"v":0.65},{"f":"L5_PC10","s":0.47,"v":0.63},{"f":"L5_PC10","s":0.49,"v":0.66},
{"f":"L5_PC10","s":0.56,"v":0.68},{"f":"L5_PC10","s":0.59,"v":0.66},{"f":"L5_PC10","s":0.62,"v":0.69},
{"f":"L5_PC10","s":0.67,"v":0.7},{"f":"L5_PC10","s":0.7,"v":0.68},{"f":"L5_PC10","s":0.73,"v":0.71},
{"f":"L5_PC10","s":0.78,"v":0.73},{"f":"L5_PC10","s":0.82,"v":0.72},
{"f":"L5_PC10","s":0.9,"v":0.74},{"f":"L5_PC10","s":0.96,"v":0.76},
{"f":"L5_PC10","s":1.2,"v":0.78},{"f":"L5_PC10","s":1.87,"v":0.92},

{"f":"L3_PC29","s":-1.54,"v":0.08},{"f":"L3_PC29","s":-0.9,"v":0.12},{"f":"L3_PC29","s":-0.84,"v":0.14},{"f":"L3_PC29","s":-0.78,"v":0.12},{"f":"L3_PC29","s":-0.7,"v":0.15},{"f":"L3_PC29","s":-0.56,"v":0.18},
{"f":"L3_PC29","s":-0.48,"v":0.29},{"f":"L3_PC29","s":-0.45,"v":0.27},
{"f":"L3_PC29","s":-0.43,"v":0.32},{"f":"L3_PC29","s":-0.4,"v":0.3},{"f":"L3_PC29","s":-0.37,"v":0.33},{"f":"L3_PC29","s":-0.35,"v":0.31},
{"f":"L3_PC29","s":-0.33,"v":0.35},{"f":"L3_PC29","s":-0.3,"v":0.33},{"f":"L3_PC29","s":-0.27,"v":0.36},{"f":"L3_PC29","s":-0.25,"v":0.34},{"f":"L3_PC29","s":-0.23,"v":0.35},
{"f":"L3_PC29","s":-0.21,"v":0.4},{"f":"L3_PC29","s":-0.19,"v":0.38},{"f":"L3_PC29","s":-0.17,"v":0.41},{"f":"L3_PC29","s":-0.15,"v":0.39},{"f":"L3_PC29","s":-0.13,"v":0.4},{"f":"L3_PC29","s":-0.12,"v":0.38},
{"f":"L3_PC29","s":-0.1,"v":0.45},{"f":"L3_PC29","s":-0.08,"v":0.43},{"f":"L3_PC29","s":-0.06,"v":0.46},{"f":"L3_PC29","s":-0.04,"v":0.44},{"f":"L3_PC29","s":-0.02,"v":0.45},{"f":"L3_PC29","s":-0.01,"v":0.43},
{"f":"L3_PC29","s":0.01,"v":0.49},{"f":"L3_PC29","s":0.03,"v":0.47},{"f":"L3_PC29","s":0.05,"v":0.5},{"f":"L3_PC29","s":0.07,"v":0.48},{"f":"L3_PC29","s":0.09,"v":0.49},{"f":"L3_PC29","s":0.1,"v":0.47},
{"f":"L3_PC29","s":0.12,"v":0.55},{"f":"L3_PC29","s":0.14,"v":0.53},{"f":"L3_PC29","s":0.16,"v":0.56},{"f":"L3_PC29","s":0.18,"v":0.54},{"f":"L3_PC29","s":0.2,"v":0.55},
{"f":"L3_PC29","s":0.23,"v":0.59},{"f":"L3_PC29","s":0.25,"v":0.57},{"f":"L3_PC29","s":0.27,"v":0.6},{"f":"L3_PC29","s":0.29,"v":0.58},{"f":"L3_PC29","s":0.31,"v":0.59},
{"f":"L3_PC29","s":0.34,"v":0.64},{"f":"L3_PC29","s":0.36,"v":0.62},{"f":"L3_PC29","s":0.38,"v":0.65},{"f":"L3_PC29","s":0.4,"v":0.63},
{"f":"L3_PC29","s":0.45,"v":0.67},{"f":"L3_PC29","s":0.47,"v":0.65},{"f":"L3_PC29","s":0.49,"v":0.68},{"f":"L3_PC29","s":0.51,"v":0.66},
{"f":"L3_PC29","s":0.56,"v":0.7},{"f":"L3_PC29","s":0.59,"v":0.69},{"f":"L3_PC29","s":0.62,"v":0.71},
{"f":"L3_PC29","s":0.67,"v":0.73},{"f":"L3_PC29","s":0.7,"v":0.72},{"f":"L3_PC29","s":0.73,"v":0.74},
{"f":"L3_PC29","s":0.78,"v":0.76},{"f":"L3_PC29","s":0.82,"v":0.77},
{"f":"L3_PC29","s":0.9,"v":0.78},
{"f":"L3_PC29","s":1.1,"v":0.8},{"f":"L3_PC29","s":1.4,"v":0.85},{"f":"L3_PC29","s":1.55,"v":0.88},{"f":"L3_PC29","s":1.62,"v":0.9},{"f":"L3_PC29","s":1.68,"v":0.9},

{"f":"L8_PC31","s":-0.84,"v":0.92},
{"f":"L8_PC31","s":-0.63,"v":0.8},{"f":"L8_PC31","s":-0.6,"v":0.82},
{"f":"L8_PC31","s":-0.56,"v":0.78},{"f":"L8_PC31","s":-0.53,"v":0.8},{"f":"L8_PC31","s":-0.5,"v":0.77},
{"f":"L8_PC31","s":-0.45,"v":0.75},{"f":"L8_PC31","s":-0.42,"v":0.77},{"f":"L8_PC31","s":-0.4,"v":0.74},{"f":"L8_PC31","s":-0.38,"v":0.76},
{"f":"L8_PC31","s":-0.34,"v":0.72},{"f":"L8_PC31","s":-0.32,"v":0.74},{"f":"L8_PC31","s":-0.3,"v":0.71},{"f":"L8_PC31","s":-0.28,"v":0.73},{"f":"L8_PC31","s":-0.26,"v":0.7},
{"f":"L8_PC31","s":-0.23,"v":0.65},{"f":"L8_PC31","s":-0.21,"v":0.67},{"f":"L8_PC31","s":-0.19,"v":0.64},{"f":"L8_PC31","s":-0.17,"v":0.66},{"f":"L8_PC31","s":-0.15,"v":0.63},{"f":"L8_PC31","s":-0.13,"v":0.62},
{"f":"L8_PC31","s":-0.1,"v":0.55},{"f":"L8_PC31","s":-0.08,"v":0.57},{"f":"L8_PC31","s":-0.06,"v":0.54},{"f":"L8_PC31","s":-0.04,"v":0.56},{"f":"L8_PC31","s":-0.02,"v":0.53},{"f":"L8_PC31","s":-0.01,"v":0.52},
{"f":"L8_PC31","s":0.01,"v":0.45},{"f":"L8_PC31","s":0.03,"v":0.47},{"f":"L8_PC31","s":0.05,"v":0.44},{"f":"L8_PC31","s":0.07,"v":0.46},{"f":"L8_PC31","s":0.09,"v":0.43},{"f":"L8_PC31","s":0.1,"v":0.42},
{"f":"L8_PC31","s":0.12,"v":0.35},{"f":"L8_PC31","s":0.14,"v":0.37},{"f":"L8_PC31","s":0.16,"v":0.34},{"f":"L8_PC31","s":0.18,"v":0.36},{"f":"L8_PC31","s":0.2,"v":0.33},
{"f":"L8_PC31","s":0.23,"v":0.28},{"f":"L8_PC31","s":0.25,"v":0.3},{"f":"L8_PC31","s":0.27,"v":0.27},{"f":"L8_PC31","s":0.29,"v":0.29},
{"f":"L8_PC31","s":0.34,"v":0.22},{"f":"L8_PC31","s":0.37,"v":0.24},{"f":"L8_PC31","s":0.4,"v":0.21},
{"f":"L8_PC31","s":0.45,"v":0.18},{"f":"L8_PC31","s":0.48,"v":0.2},{"f":"L8_PC31","s":0.51,"v":0.17},
{"f":"L8_PC31","s":0.56,"v":0.15},{"f":"L8_PC31","s":0.6,"v":0.14},
{"f":"L8_PC31","s":0.66,"v":0.12},{"f":"L8_PC31","s":0.74,"v":0.1},

{"f":"L10_PC27","s":-0.7,"v":0.92},
{"f":"L10_PC27","s":-0.62,"v":0.85},{"f":"L10_PC27","s":-0.58,"v":0.87},
{"f":"L10_PC27","s":-0.55,"v":0.82},{"f":"L10_PC27","s":-0.52,"v":0.84},{"f":"L10_PC27","s":-0.49,"v":0.81},
{"f":"L10_PC27","s":-0.44,"v":0.8},{"f":"L10_PC27","s":-0.41,"v":0.82},{"f":"L10_PC27","s":-0.38,"v":0.79},{"f":"L10_PC27","s":-0.36,"v":0.81},
{"f":"L10_PC27","s":-0.33,"v":0.75},{"f":"L10_PC27","s":-0.3,"v":0.77},{"f":"L10_PC27","s":-0.27,"v":0.74},{"f":"L10_PC27","s":-0.25,"v":0.76},
{"f":"L10_PC27","s":-0.22,"v":0.68},{"f":"L10_PC27","s":-0.2,"v":0.7},{"f":"L10_PC27","s":-0.18,"v":0.67},{"f":"L10_PC27","s":-0.16,"v":0.69},{"f":"L10_PC27","s":-0.14,"v":0.66},
{"f":"L10_PC27","s":-0.1,"v":0.58},{"f":"L10_PC27","s":-0.08,"v":0.6},{"f":"L10_PC27","s":-0.06,"v":0.57},{"f":"L10_PC27","s":-0.04,"v":0.59},{"f":"L10_PC27","s":-0.02,"v":0.56},
{"f":"L10_PC27","s":0.01,"v":0.45},{"f":"L10_PC27","s":0.03,"v":0.47},{"f":"L10_PC27","s":0.05,"v":0.44},{"f":"L10_PC27","s":0.07,"v":0.46},{"f":"L10_PC27","s":0.09,"v":0.43},
{"f":"L10_PC27","s":0.12,"v":0.35},{"f":"L10_PC27","s":0.14,"v":0.37},{"f":"L10_PC27","s":0.16,"v":0.34},{"f":"L10_PC27","s":0.18,"v":0.36},
{"f":"L10_PC27","s":0.23,"v":0.28},{"f":"L10_PC27","s":0.26,"v":0.3},{"f":"L10_PC27","s":0.29,"v":0.27},
{"f":"L10_PC27","s":0.34,"v":0.22},{"f":"L10_PC27","s":0.37,"v":0.24},{"f":"L10_PC27","s":0.4,"v":0.21},
{"f":"L10_PC27","s":0.45,"v":0.18},{"f":"L10_PC27","s":0.48,"v":0.16},
{"f":"L10_PC27","s":0.55,"v":0.15},

{"f":"L2_PC1","s":0,"v":0.5},{"f":"L2_PC1","s":0,"v":0.72},{"f":"L2_PC1","s":0,"v":0.45},{"f":"L2_PC1","s":0,"v":0.6},{"f":"L2_PC1","s":0,"v":0.38},{"f":"L2_PC1","s":0,"v":0.78},{"f":"L2_PC1","s":0,"v":0.55},
{"f":"L2_PC2","s":0,"v":0.62},{"f":"L2_PC2","s":0,"v":0.48},{"f":"L2_PC2","s":0,"v":0.75},{"f":"L2_PC2","s":0,"v":0.4},{"f":"L2_PC2","s":0,"v":0.55},{"f":"L2_PC2","s":0,"v":0.7},{"f":"L2_PC2","s":0,"v":0.5},
{"f":"L2_PC25","s":0,"v":0.45},{"f":"L2_PC25","s":0,"v":0.3},{"f":"L2_PC25","s":0,"v":0.52},{"f":"L2_PC25","s":0,"v":0.68},{"f":"L2_PC25","s":0,"v":0.42},{"f":"L2_PC25","s":0,"v":0.58},{"f":"L2_PC25","s":0,"v":0.74},
{"f":"L2_PC17","s":0,"v":0.55},{"f":"L2_PC17","s":0,"v":0.78},{"f":"L2_PC17","s":0,"v":0.5},{"f":"L2_PC17","s":0,"v":0.4},{"f":"L2_PC17","s":0,"v":0.65},{"f":"L2_PC17","s":0,"v":0.48},{"f":"L2_PC17","s":0,"v":0.7},
{"f":"L2_PC13","s":0,"v":0.6},{"f":"L2_PC13","s":0,"v":0.45},{"f":"L2_PC13","s":0,"v":0.72},{"f":"L2_PC13","s":0,"v":0.52},{"f":"L2_PC13","s":0,"v":0.35},{"f":"L2_PC13","s":0,"v":0.62},{"f":"L2_PC13","s":0,"v":0.8},
{"f":"L2_PC9","s":0,"v":0.48},{"f":"L2_PC9","s":0,"v":0.7},{"f":"L2_PC9","s":0,"v":0.55},{"f":"L2_PC9","s":0,"v":0.42},{"f":"L2_PC9","s":0,"v":0.76},{"f":"L2_PC9","s":0,"v":0.5},{"f":"L2_PC9","s":0,"v":0.6},
{"f":"L2_PC28","s":0,"v":0.52},{"f":"L2_PC28","s":0,"v":0.65},{"f":"L2_PC28","s":0,"v":0.4},{"f":"L2_PC28","s":0,"v":0.58},{"f":"L2_PC28","s":0,"v":0.72},{"f":"L2_PC28","s":0,"v":0.46},{"f":"L2_PC28","s":0,"v":0.55}
]},
"encoding":{
 "y":{"field":"f","type":"nominal","sort":["L9_PC1","L7_PC11","L11_PC16","L12_PC3","L11_PC6","L4_PC4","L9_PC14","L5_PC2","L11_PC28","L5_PC10","L3_PC29","L8_PC31","L10_PC27","L2_PC1","L2_PC2","L2_PC25","L2_PC17","L2_PC13","L2_PC9","L2_PC28"],
  "scale":{"type":"band","paddingInner":0,"paddingOuter":0.1},
  "axis":{"title":null,"bandPosition":0.5,"grid":true,"gridColor":"#FFFFFF","gridWidth":1.1,"domain":false,"ticks":true,"tickColor":"#333333","tickSize":4,"tickWidth":1,"labelFontSize":19,"labelColor":"#4D4D4D","labelPadding":3,"labelFont":"Liberation Sans"}}
},
"layer":[
 {"data":{"name":"means"},
  "mark":{"type":"text","fontSize":18.5,"color":"#1A1A1A","font":"Liberation Sans"},
  "encoding":{"x":{"datum":-5.3,"type":"quantitative","scale":{"domain":[-6.45,4.49],"nice":false,"zero":false},
     "axis":{"orient":"top","values":[-5,-3,-1,1,3],"grid":true,"gridColor":"#FFFFFF","gridWidth":0.5,"labels":false,"ticks":false,"domain":false,"title":null}},
   "text":{"field":"m"}}},
 {"data":{"name":"pts"},
  "transform":[
   {"calculate":"floor(datum.s/0.11)","as":"b"},
   {"window":[{"op":"row_number","as":"r"},{"op":"count","as":"n"}],"groupby":["f","b"],"frame":[null,null]},
   {"calculate":"min(0.17, 0.30/max(0.5,(datum.n-1)/2))","as":"sp"},
   {"calculate":"(datum.r%2==0?1:-1)*floor(datum.r/2)*datum.sp-(datum.n%2==0?datum.sp/2:0)+((abs(round(datum.s*100))+datum.r*3)%5-2)*0.03","as":"o"}
  ],
  "mark":{"type":"circle","size":50,"opacity":1},
  "encoding":{
   "x":{"field":"s","type":"quantitative","scale":{"domain":[-6.45,4.49],"nice":false,"zero":false},
     "axis":{"orient":"bottom","values":[-6,-4,-2,0,2,4],"labelExpr":"datum.value+''","grid":true,"gridColor":"#FFFFFF","gridWidth":1.1,"domain":false,"tickColor":"#333333","tickSize":4,"labelFontSize":18,"labelColor":"#4D4D4D","labelPadding":8,"title":"SHAP value","titleFontSize":23,"titleFontWeight":"normal","titleColor":"#000000","titlePadding":5,"labelFont":"Liberation Sans","titleFont":"Liberation Sans"}},
   "yOffset":{"field":"o","type":"quantitative","scale":{"domain":[-0.5,0.5]}},
   "color":{"field":"v","type":"quantitative","scale":{"scheme":{"name":"inferno","extent":[0.18,0.84]},"domain":[0,1]},
     "legend":{"title":"Feature value","titleOrient":"left","titleAnchor":"middle","titleFontSize":24,"titleFontWeight":"normal","titleColor":"#1A1A1A","titlePadding":9,"orient":"none","legendX":796,"legendY":126,"values":[0.012,0.99],"labelExpr":"datum.value>0.5?'High':'Low'","labelBaseline":"middle","gradientLength":245,"gradientThickness":12,"gradientStrokeWidth":0,"labelFontSize":18,"labelColor":"#1A1A1A","labelOffset":9,"labelFont":"Liberation Sans","titleFont":"Liberation Sans"}}
  }}
],
"resolve":{"axis":{"x":"independent"}}
}
